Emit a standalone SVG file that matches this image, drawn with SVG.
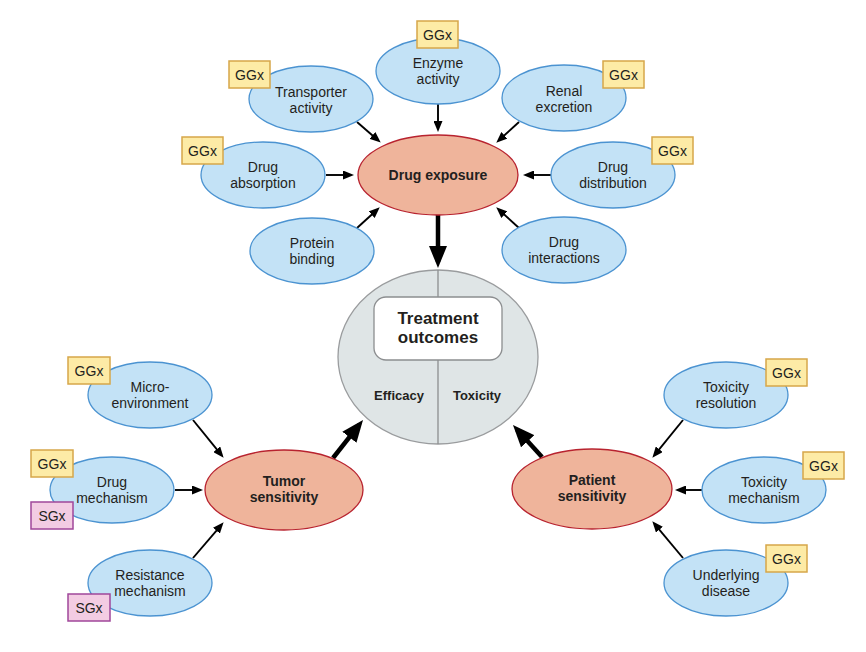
<svg xmlns="http://www.w3.org/2000/svg" width="866" height="652" viewBox="0 0 866 652">
<style>
text{font-family:"Liberation Sans",Arial,sans-serif;fill:#231f20;text-anchor:middle}
.t{font-size:14px}
.b{font-size:14px;font-weight:bold}
.blue{fill:#c3e2f6;stroke:#4b93d1;stroke-width:1.3}
.org{fill:#efb49b;stroke:#b8232f;stroke-width:1.3}
.gg{fill:#fdeba6;stroke:#d6a74a;stroke-width:1.5}
.sg{fill:#f3cce3;stroke:#a0479a;stroke-width:1.5}
.thin{stroke:#000;stroke-width:1.9;fill:none;marker-end:url(#ah)}
.thick{stroke:#000;stroke-width:4.5;fill:none;marker-end:url(#ahb)}
</style>
<defs>
<marker id="ah" markerUnits="userSpaceOnUse" markerWidth="11" markerHeight="9" refX="7" refY="4.5" orient="auto"><path d="M0,0 L11,4.5 L0,9 Z" fill="#000"/></marker>
<marker id="ahb" markerUnits="userSpaceOnUse" markerWidth="22" markerHeight="18" refX="16" refY="9" orient="auto"><path d="M0,0 L22,9 L0,18 Z" fill="#000"/></marker>
</defs>
<rect width="866" height="652" fill="#fff"/>

<g id="connectors">
<line class="thin" x1="438" y1="104" x2="438" y2="128"/>
<line class="thin" x1="357" y1="122" x2="377.7" y2="140"/>
<line class="thin" x1="519" y1="122" x2="499.2" y2="140"/>
<line class="thin" x1="326" y1="175" x2="350" y2="175"/>
<line class="thin" x1="551" y1="175" x2="527" y2="175"/>
<line class="thin" x1="357" y1="228" x2="376.8" y2="210"/>
<line class="thin" x1="519" y1="228" x2="499.2" y2="210"/>
<line class="thin" x1="193" y1="420" x2="221.1" y2="454.7"/>
<line class="thin" x1="175" y1="490" x2="199" y2="490"/>
<line class="thin" x1="193" y1="558" x2="221" y2="525.3"/>
<line class="thin" x1="683" y1="420" x2="654.9" y2="454.7"/>
<line class="thin" x1="702" y1="490" x2="679" y2="490"/>
<line class="thin" x1="683" y1="558" x2="654.9" y2="524.3"/>
<line class="thick" x1="438" y1="214" x2="438" y2="262"/>
<line class="thick" x1="333" y1="458" x2="359.3" y2="424.7"/>
<line class="thick" x1="542" y1="457" x2="517" y2="429.4"/>
</g>

<g id="outcomes">
<ellipse cx="438" cy="357" rx="100" ry="87" fill="#dfe5e6" stroke="#9a9c9e" stroke-width="1.3"/>
<line x1="438" y1="270" x2="438" y2="444" stroke="#8c8e90" stroke-width="1.3"/>
<rect x="374" y="297" width="128" height="63" rx="12" fill="#fff" stroke="#8c8e90" stroke-width="1.3"/>
<text x="438" y="324" style="font-size:17px;font-weight:bold">Treatment</text>
<text x="438" y="343" style="font-size:17px;font-weight:bold">outcomes</text>
<text x="399" y="400" style="font-size:13px;font-weight:bold">Efficacy</text>
<text x="477" y="400" style="font-size:13px;font-weight:bold">Toxicity</text>
</g>

<g id="drug-exposure">
<ellipse class="org" cx="438" cy="175" rx="80" ry="40"/>
<text class="b" x="438" y="180">Drug exposure</text>
</g>
<g id="tumor-sensitivity">
<ellipse class="org" cx="284" cy="490" rx="79" ry="40"/>
<text class="b" x="284" y="486">Tumor</text>
<text class="b" x="284" y="502">sensitivity</text>
</g>
<g id="patient-sensitivity">
<ellipse class="org" cx="592" cy="489" rx="80" ry="40"/>
<text class="b" x="592" y="485">Patient</text>
<text class="b" x="592" y="501">sensitivity</text>
</g>

<g id="enzyme-activity">
<ellipse class="blue" cx="438" cy="71" rx="62" ry="33"/>
<text class="t" x="438" y="68">Enzyme</text>
<text class="t" x="438" y="84">activity</text>
<rect class="gg" x="417" y="21" width="41" height="27"/>
<text class="t" x="437.5" y="39.5">GGx</text>
</g>
<g id="transporter-activity">
<ellipse class="blue" cx="311" cy="99" rx="62" ry="33"/>
<text class="t" x="311" y="97">Transporter</text>
<text class="t" x="311" y="113">activity</text>
<rect class="gg" x="229" y="61" width="41" height="27"/>
<text class="t" x="249.5" y="79.5">GGx</text>
</g>
<g id="renal-excretion">
<ellipse class="blue" cx="564" cy="98" rx="62" ry="33"/>
<text class="t" x="564" y="96">Renal</text>
<text class="t" x="564" y="112">excretion</text>
<rect class="gg" x="603" y="61" width="41" height="27"/>
<text class="t" x="623.5" y="79.5">GGx</text>
</g>
<g id="drug-absorption">
<ellipse class="blue" cx="263" cy="175" rx="62" ry="33"/>
<text class="t" x="263" y="172">Drug</text>
<text class="t" x="263" y="188">absorption</text>
<rect class="gg" x="182" y="137" width="41" height="27"/>
<text class="t" x="202.5" y="155.5">GGx</text>
</g>
<g id="drug-distribution">
<ellipse class="blue" cx="613" cy="175" rx="62" ry="33"/>
<text class="t" x="613" y="172">Drug</text>
<text class="t" x="613" y="188">distribution</text>
<rect class="gg" x="652" y="137" width="41" height="27"/>
<text class="t" x="672.5" y="155.5">GGx</text>
</g>
<g id="protein-binding">
<ellipse class="blue" cx="312" cy="251" rx="62" ry="33"/>
<text class="t" x="312" y="248">Protein</text>
<text class="t" x="312" y="264">binding</text>
</g>
<g id="drug-interactions">
<ellipse class="blue" cx="564" cy="250" rx="62" ry="33"/>
<text class="t" x="564" y="247">Drug</text>
<text class="t" x="564" y="263">interactions</text>
</g>

<g id="micro-environment">
<ellipse class="blue" cx="150" cy="395" rx="62" ry="33"/>
<text class="t" x="150" y="392">Micro-</text>
<text class="t" x="150" y="408">environment</text>
<rect class="gg" x="68" y="357" width="42" height="27"/>
<text class="t" x="89" y="375.5">GGx</text>
</g>
<g id="drug-mechanism">
<ellipse class="blue" cx="112" cy="490" rx="62" ry="33"/>
<text class="t" x="112" y="487">Drug</text>
<text class="t" x="112" y="503">mechanism</text>
<rect class="gg" x="31" y="450" width="42" height="27"/>
<text class="t" x="52" y="468.5">GGx</text>
<rect class="sg" x="31" y="502" width="42" height="27"/>
<text class="t" x="52" y="520.5">SGx</text>
</g>
<g id="resistance-mechanism">
<ellipse class="blue" cx="150" cy="583" rx="62" ry="33"/>
<text class="t" x="150" y="580">Resistance</text>
<text class="t" x="150" y="596">mechanism</text>
<rect class="sg" x="68" y="594" width="42" height="27"/>
<text class="t" x="89" y="612.5">SGx</text>
</g>

<g id="toxicity-resolution">
<ellipse class="blue" cx="726" cy="395" rx="62" ry="33"/>
<text class="t" x="726" y="392">Toxicity</text>
<text class="t" x="726" y="408">resolution</text>
<rect class="gg" x="766" y="359" width="41" height="27"/>
<text class="t" x="786.5" y="377.5">GGx</text>
</g>
<g id="toxicity-mechanism">
<ellipse class="blue" cx="764" cy="490" rx="62" ry="33"/>
<text class="t" x="764" y="487">Toxicity</text>
<text class="t" x="764" y="503">mechanism</text>
<rect class="gg" x="803" y="452" width="41" height="27"/>
<text class="t" x="823.5" y="470.5">GGx</text>
</g>
<g id="underlying-disease">
<ellipse class="blue" cx="726" cy="583" rx="62" ry="33"/>
<text class="t" x="726" y="580">Underlying</text>
<text class="t" x="726" y="596">disease</text>
<rect class="gg" x="766" y="545" width="41" height="27"/>
<text class="t" x="786.5" y="563.5">GGx</text>
</g>
</svg>
